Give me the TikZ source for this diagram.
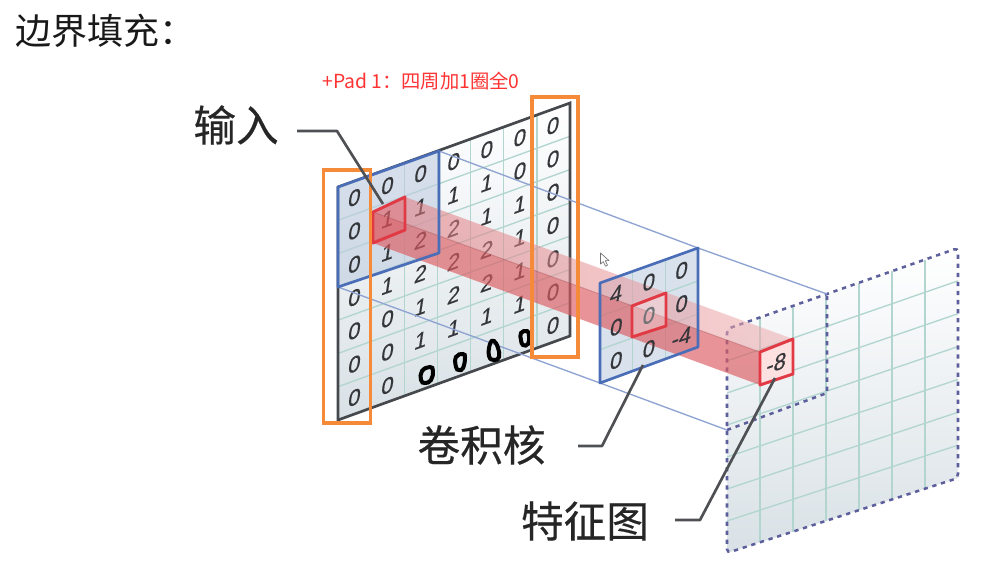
\documentclass[tikz,border=0pt]{standalone}
\usepackage{fontspec}
\setmainfont{Liberation Sans}
\newfontfamily\cjk{Noto Sans CJK SC}
\newfontfamily\cjkheavy[FakeBold=0.35]{Noto Sans CJK SC}
\newfontfamily\digitfont[FakeBold=0.4]{Liberation Sans}
\usetikzlibrary{calc}
\definecolor{gridteal}{HTML}{B2D5D0}
\definecolor{frameblk}{HTML}{45484C}
\definecolor{kernblue}{HTML}{4A6DB8}
\definecolor{kerntint}{HTML}{BFCDE0}
\definecolor{linkblue}{HTML}{8FA3D3}
\definecolor{cellred}{HTML}{E23A44}
\definecolor{tubered}{HTML}{DC5C62}
\definecolor{padorange}{HTML}{F58A38}
\definecolor{dashblue}{HTML}{5D5F9C}
\definecolor{leadgrey}{HTML}{4E5053}
\definecolor{digitgrey}{HTML}{34363A}
\definecolor{sheetgrey}{HTML}{D9E1E6}
\tikzset{
  x=0.75pt,y=-0.75pt,
  gridln/.style={draw=gridteal,line width=1pt},
  frameln/.style={draw=frameblk,line width=2pt},
  kernln/.style={draw=kernblue,line width=2pt,line join=round},
  linkln/.style={draw=linkblue,line width=1pt},
  redcell/.style={draw=cellred,line width=2.2pt,line join=round},
  padbox/.style={draw=padorange,line width=2.6pt},
  dashln/.style={draw=dashblue,line width=1.9pt,dash pattern=on 3.2pt off 3.6pt},
  leadln/.style={draw=leadgrey,line width=2pt,line join=round},
  digit/.style={font=\digitfont\fontsize{16.5}{16.5}\selectfont,text=digitgrey,inner sep=0pt,yslant=0.36,xslant=0.16},
  handzero/.style={draw=black,line width=3pt},
  biglabel/.style={font=\cjkheavy\fontsize{32}{32}\selectfont,text=black!85,inner sep=0pt},
}
\begin{document}
\begin{tikzpicture}
\useasboundingbox (0,0) rectangle (1003,571);
\fill[white] (0,0) rectangle (1003,571);
% anchor points
\coordinate (iTL) at (338,187);
\coordinate (iTR) at (570,103);
\coordinate (iBR) at (570,336);
\coordinate (iBL) at (338,420);
\coordinate (kTR) at (439,151);
\coordinate (kBR) at (439,253);
\coordinate (kBL) at (338,287);
\coordinate (mTL) at (600,283);
\coordinate (mTR) at (698,248);
\coordinate (mBR) at (698,347);
\coordinate (mBL) at (600,383);
\coordinate (fTL) at (727,329);
\coordinate (fTR) at (958,248);
\coordinate (fBR) at (958,478);
\coordinate (fBL) at (727,553);
\coordinate (sTR) at (827,294);
\coordinate (sBR) at (827,393);
\coordinate (sBL) at (727,430);
\coordinate (cTL) at (373,212);
\coordinate (cTR) at (405,197);
\coordinate (cBR) at (405,230);
\coordinate (cBL) at (373,243);
\coordinate (eTL) at (760,352);
\coordinate (eTR) at (793,339);
\coordinate (eBR) at (793,374);
\coordinate (eBL) at (760,385);

% feature map
\shade[top color=white,bottom color=sheetgrey]
  (fTL) -- (fTR) -- (fBR) -- (fBL) -- cycle;
\foreach \i in {1,...,6} {
  \draw[gridln] ($(fTL)!\i/7!(fTR)$) -- ($(fBL)!\i/7!(fBR)$);
  \draw[gridln] ($(fTL)!\i/7!(fBL)$) -- ($(fTR)!\i/7!(fBR)$);
}
\draw[dashln,rounded corners=3pt] (fTL) -- (fTR) -- (fBR) -- (fBL) -- cycle;
\draw[dashln] (sBL) -- (sBR) -- (sTR);

% input grid
\shade[top color=white,bottom color=sheetgrey]
  (iTL) -- (iTR) -- (iBR) -- (iBL) -- cycle;
\foreach \i in {1,...,6} {
  \draw[gridln] ($(iTL)!\i/7!(iTR)$) -- ($(iBL)!\i/7!(iBR)$);
  \draw[gridln] ($(iTL)!\i/7!(iBL)$) -- ($(iTR)!\i/7!(iBR)$);
}
\draw[frameln] (iTL) -- (iTR) -- (iBR) -- (iBL) -- cycle;
% input kernel tint
\fill[kerntint,opacity=.6] (iTL) -- (kTR) -- (kBR) -- (kBL) -- cycle;

% input digits
\foreach \c/\vals in {0/{0,0,0,0,0,0,0},1/{0,1,1,1,0,0,0},2/{0,1,2,2,1,1,},3/{0,1,2,2,2,1,},4/{0,1,1,2,2,1,},5/{0,0,1,1,1,1,},6/{0,0,0,0,0,0,0}} {
  \foreach \v [count=\r from 0] in \vals {
    \node[digit] (d\c\r) at ({338+33.1*(\c+.5)},{187-12*(\c+.5)+33.3*(\r+.5)}) {\v};
  }
}

% links behind the middle kernel
\draw[linkln] (kTR) -- (mTR) -- (sTR);
\draw[linkln] (kBL) -- (mBL) -- (sBL);

% middle kernel
\fill[white] (mTL) -- (mTR) -- (mBR) -- (mBL) -- cycle;
\fill[kerntint,opacity=.6] (mTL) -- (mTR) -- (mBR) -- (mBL) -- cycle;
\foreach \i in {1,2} {
  \draw[gridln] ($(mTL)!\i/3!(mTR)$) -- ($(mBL)!\i/3!(mBR)$);
  \draw[gridln] ($(mTL)!\i/3!(mBL)$) -- ($(mTR)!\i/3!(mBR)$);
}

% red tube
\fill[tubered,opacity=.66] (cTL) -- (eTL) -- (eBL) -- (cBL) -- cycle;
\shade[left color=tubered!85,right color=tubered!50,opacity=.55]
  (cTL) -- (cTR) -- (eTR) -- (eTL) -- cycle;
\draw[tubered!70!black,opacity=.35,line width=.7pt] (cTL) -- (eTL);

% kernel digits
\foreach \c/\vals in {0/{4,0,0},1/{0,0,0},2/{0,0,-4}} {
  \foreach \v [count=\r from 0] in \vals {
    \node[digit] (m\c\r) at ({600+32.7*(\c+.5)},{283-11.7*(\c+.5)+33.3*(\r+.5)}) {\v};
  }
}

% frames on top
\draw[kernln] (iTL) -- (kTR) -- (kBR) -- (kBL) -- cycle;
\draw[kernln] (mTL) -- (mTR) -- (mBR) -- (mBL) -- cycle;
\fill[cellred,opacity=.22] (cTL) -- (cTR) -- (cBR) -- (cBL) -- cycle;
\draw[redcell] (cTL) -- (cTR) -- (cBR) -- (cBL) -- cycle;
\coordinate (mrTL) at (632,306);
\coordinate (mrTR) at (666,293);
\coordinate (mrBR) at (666,326);
\coordinate (mrBL) at (632,337);
\fill[white,opacity=.3] (mrTL) -- (mrTR) -- (mrBR) -- (mrBL) -- cycle;
\draw[redcell] (mrTL) -- (mrTR) -- (mrBR) -- (mrBL) -- cycle;
\fill[black!6!red!12!white] (eTL) -- (eTR) -- (eBR) -- (eBL) -- cycle;
\draw[redcell] (eTL) -- (eTR) -- (eBR) -- (eBL) -- cycle;
\node[digit] (endval) at (776.5,363) {-8};

% hand-drawn zeros
\draw[handzero] plot[smooth cycle,tension=.8] coordinates {(422,371) (430,367) (433,371) (431,380) (425,383) (421,380)};
\draw[handzero] plot[smooth cycle,tension=.8] coordinates {(456,357) (463,354) (465,358) (463,368) (459,370) (456,367)};
\draw[handzero] plot[smooth cycle,tension=.8] coordinates {(490,344) (494,341) (498,348) (499,357) (494,360) (489,356)};
\draw[handzero] plot[smooth cycle,tension=.8] coordinates {(521,333) (527,331) (529,336) (528,344) (523,345) (521,340)};

% orange boxes
\node[padbox,inner sep=0pt,minimum width=35.5pt,minimum height=190pt] (padL) at (347,296.5) {};
\node[padbox,inner sep=0pt,minimum width=34.5pt,minimum height=195pt] (padR) at (555,227) {};

% labels
\node[biglabel,anchor=center] (lin) at (236,125) {输入};
\node[biglabel,anchor=center] (lke) at (481.5,445) {卷积核};
\node[biglabel,anchor=center] (lfe) at (585,521) {特征图};
\node[font=\cjk\fontsize{27}{27}\selectfont,text=black!90,anchor=west,inner sep=0pt] (title) at (15,31) {边界填充：};
\node[font=\cjk\fontsize{14.5}{14.5}\selectfont,text=red!80!white,anchor=west,inner sep=0pt] (pad) at (322,81) {+Pad 1：四周加1圈全0};

% leaders
\coordinate (a1) at (297,131);
\coordinate (a2) at (337,131);
\coordinate (a3) at (383,204);
\coordinate (b1) at (578,446);
\coordinate (b2) at (602,446);
\coordinate (b3) at (643,365);
\coordinate (c1) at (675,520);
\coordinate (c2) at (700,520);
\coordinate (c3) at (775,378);
\draw[leadln] (a1) -- (a2) -- (a3);
\draw[leadln] (b1) -- (b2) -- (b3);
\draw[leadln] (c1) -- (c2) -- (c3);

% cursor
\coordinate (p0) at (600.5,253);
\draw[black!55,fill=white,line width=.5pt,line join=round]
  (p0) -- ++(0,11) -- ++(2.7,-2.4) -- ++(2.3,4.6) -- ++(2,-1) -- ++(-2.2,-4.4) -- ++(3.6,-.3) -- cycle;
\end{tikzpicture}
\end{document}
